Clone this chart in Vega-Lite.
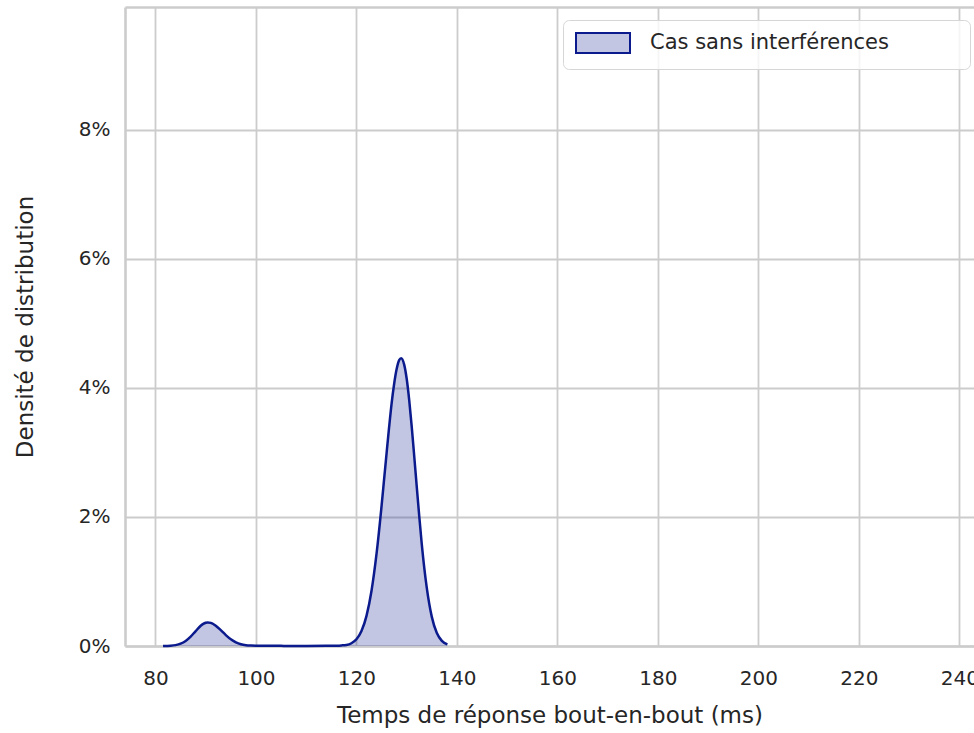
{
  "$schema": "https://vega.github.io/schema/vega-lite/v6.json",
  "width": 849,
  "height": 639,
  "autosize": {"type": "none"},
  "padding": {"left": 125, "top": 7, "right": 0, "bottom": 87},
  "background": "white",
  "data": {
    "values": [
      {"x": 81.5, "d": 0.000006, "series": "Cas sans interférences"},
      {"x": 83, "d": 0.000046, "series": "Cas sans interférences"},
      {"x": 84, "d": 0.000138, "series": "Cas sans interférences"},
      {"x": 85, "d": 0.000356, "series": "Cas sans interférences"},
      {"x": 86, "d": 0.00078, "series": "Cas sans interférences"},
      {"x": 87, "d": 0.00145, "series": "Cas sans interférences"},
      {"x": 88, "d": 0.00231, "series": "Cas sans interférences"},
      {"x": 89, "d": 0.00313, "series": "Cas sans interférences"},
      {"x": 89.5, "d": 0.00343, "series": "Cas sans interférences"},
      {"x": 90, "d": 0.00361, "series": "Cas sans interférences"},
      {"x": 90.4, "d": 0.00366, "series": "Cas sans interférences"},
      {"x": 91, "d": 0.00358, "series": "Cas sans interférences"},
      {"x": 91.5, "d": 0.00341, "series": "Cas sans interférences"},
      {"x": 92, "d": 0.00314, "series": "Cas sans interférences"},
      {"x": 93, "d": 0.00245, "series": "Cas sans interférences"},
      {"x": 94, "d": 0.00169, "series": "Cas sans interférences"},
      {"x": 95, "d": 0.00104, "series": "Cas sans interférences"},
      {"x": 96, "d": 0.00057, "series": "Cas sans interférences"},
      {"x": 97, "d": 0.00027, "series": "Cas sans interférences"},
      {"x": 98, "d": 0.00012, "series": "Cas sans interférences"},
      {"x": 99, "d": 0.00006, "series": "Cas sans interférences"},
      {"x": 100, "d": 0.00004, "series": "Cas sans interférences"},
      {"x": 102, "d": 0.00003, "series": "Cas sans interférences"},
      {"x": 105, "d": 0.00002, "series": "Cas sans interférences"},
      {"x": 110, "d": 0.00001, "series": "Cas sans interférences"},
      {"x": 114, "d": 0.00002, "series": "Cas sans interférences"},
      {"x": 116, "d": 0.00005, "series": "Cas sans interférences"},
      {"x": 117, "d": 0.00009, "series": "Cas sans interférences"},
      {"x": 118, "d": 0.00016, "series": "Cas sans interférences"},
      {"x": 119, "d": 0.00043, "series": "Cas sans interférences"},
      {"x": 120, "d": 0.00104, "series": "Cas sans interférences"},
      {"x": 121, "d": 0.00231, "series": "Cas sans interférences"},
      {"x": 122, "d": 0.00467, "series": "Cas sans interférences"},
      {"x": 123, "d": 0.00857, "series": "Cas sans interférences"},
      {"x": 124, "d": 0.0143, "series": "Cas sans interférences"},
      {"x": 125, "d": 0.0217, "series": "Cas sans interférences"},
      {"x": 125.5, "d": 0.0258, "series": "Cas sans interférences"},
      {"x": 126, "d": 0.0299, "series": "Cas sans interférences"},
      {"x": 126.5, "d": 0.0339, "series": "Cas sans interférences"},
      {"x": 127, "d": 0.0376, "series": "Cas sans interférences"},
      {"x": 127.5, "d": 0.0406, "series": "Cas sans interférences"},
      {"x": 128, "d": 0.0429, "series": "Cas sans interférences"},
      {"x": 128.5, "d": 0.0443, "series": "Cas sans interférences"},
      {"x": 128.9, "d": 0.0446, "series": "Cas sans interférences"},
      {"x": 129.5, "d": 0.0436, "series": "Cas sans interférences"},
      {"x": 130, "d": 0.0414, "series": "Cas sans interférences"},
      {"x": 130.5, "d": 0.0381, "series": "Cas sans interférences"},
      {"x": 131, "d": 0.034, "series": "Cas sans interférences"},
      {"x": 131.5, "d": 0.0294, "series": "Cas sans interférences"},
      {"x": 132, "d": 0.0247, "series": "Cas sans interférences"},
      {"x": 132.5, "d": 0.0201, "series": "Cas sans interférences"},
      {"x": 133, "d": 0.0158, "series": "Cas sans interférences"},
      {"x": 134, "d": 0.009, "series": "Cas sans interférences"},
      {"x": 135, "d": 0.00451, "series": "Cas sans interférences"},
      {"x": 136, "d": 0.002, "series": "Cas sans interférences"},
      {"x": 137, "d": 0.00079, "series": "Cas sans interférences"},
      {"x": 138.1, "d": 0.00024, "series": "Cas sans interférences"}
    ]
  },
  "encoding": {
    "x": {
      "field": "x",
      "type": "quantitative",
      "scale": {"domain": [73.93, 242.92], "nice": false, "zero": false}
    },
    "y": {
      "field": "d",
      "type": "quantitative",
      "scale": {"domain": [0, 0.099], "nice": false},
      "axis": {
        "values": [0, 0.02, 0.04, 0.06, 0.08],
        "format": ".0%",
        "title": "Densité de distribution",
        "labelPadding": 15,
        "titlePadding": 41
      }
    }
  },
  "layer": [
    {
      "encoding": {
        "x": {
          "field": "x",
          "type": "quantitative",
          "axis": {
            "orient": "bottom",
            "values": [80, 100, 120, 140, 160, 180, 200, 220, 240],
            "title": "Temps de réponse bout-en-bout (ms)",
            "labelPadding": 22,
            "titlePadding": 16,
            "labelFlush": false
          }
        }
      },
      "layer": [
        {
          "mark": {"type": "area", "interpolate": "monotone", "color": "#0b1a8c", "fillOpacity": 0.25}
        },
        {
          "mark": {"type": "line", "interpolate": "monotone", "strokeWidth": 2.5},
          "encoding": {
            "stroke": {
              "field": "series",
              "type": "nominal",
              "scale": {"range": ["#0b1a8c"]},
              "legend": {
                "orient": "none",
                "legendX": 438,
                "legendY": 13,
                "title": null,
                "symbolType": "M-1,-1H4.4V1H-1Z",
                "symbolSize": 400,
                "symbolFillColor": "#c2c6e3",
                "symbolStrokeWidth": 2,
                "labelFontSize": 21,
                "labelFont": "DejaVu Sans",
                "labelColor": "#262626",
                "labelOffset": 53,
                "labelLimit": 0,
                "padding": 12,
                "fillColor": "rgba(255,255,255,0.8)",
                "strokeColor": "#d6d6d6",
                "cornerRadius": 6,
                "labelExpr": "datum.label + '\u00a0\u2800\u2800\u2800\u2800'"
              }
            }
          }
        }
      ]
    },
    {
      "mark": {"type": "point", "opacity": 0},
      "encoding": {
        "x": {
          "field": "x",
          "type": "quantitative",
          "axis": {
            "orient": "top",
            "labels": false,
            "ticks": false,
            "grid": false,
            "title": null,
            "domain": true
          }
        }
      }
    }
  ],
  "resolve": {"axis": {"x": "independent"}},
  "config": {
    "view": {"stroke": null},
    "font": "DejaVu Sans",
    "axis": {
      "grid": true,
      "gridColor": "#cccccc",
      "gridWidth": 1.8,
      "domain": true,
      "domainColor": "#cccccc",
      "domainWidth": 2.6,
      "ticks": false,
      "labelFont": "DejaVu Sans",
      "labelFontSize": 20,
      "labelColor": "#262626",
      "titleFont": "DejaVu Sans",
      "titleFontSize": 23,
      "titleFontWeight": "normal",
      "titleColor": "#262626"
    }
  }
}
